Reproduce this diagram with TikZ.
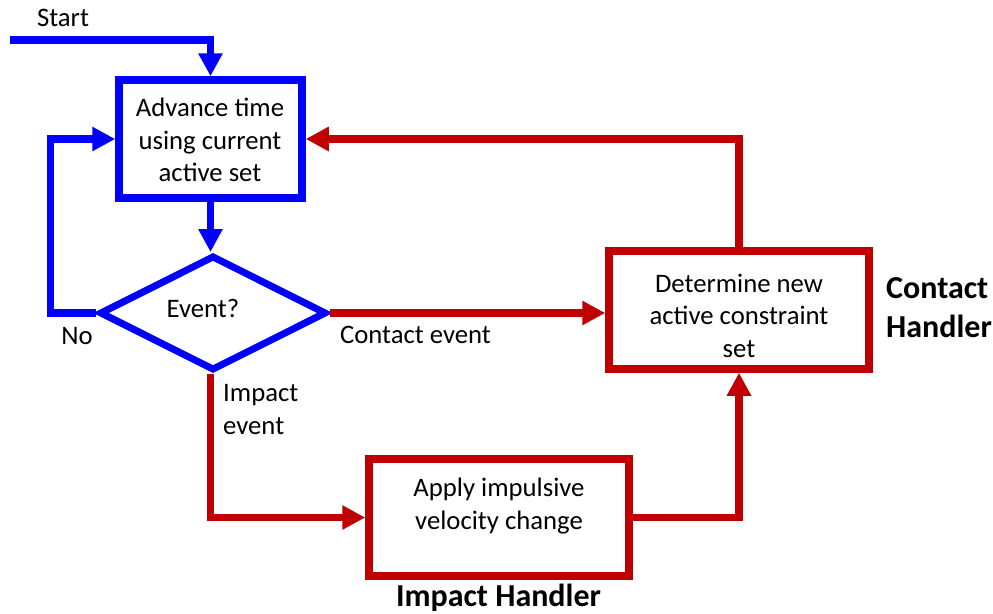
\documentclass[tikz,border=0pt]{standalone}
\usepackage{fontspec}
\setmainfont{Carlito}
\usetikzlibrary{arrows.meta,shapes.geometric}
\definecolor{fblue}{HTML}{0000FF}
\definecolor{fred}{HTML}{C00000}
\begin{document}
\begin{tikzpicture}[x=1pt,y=-1pt,
  txt/.style={font=\fontsize{26.7}{32.5}\selectfont, align=center, inner sep=0pt},
  lbl/.style={font=\fontsize{26.7}{33}\selectfont, align=left, inner sep=0pt},
  bold/.style={font=\fontsize{32}{39}\selectfont\bfseries, align=left, inner sep=0pt},
  bluebox/.style={draw=fblue, line width=7.5pt, rectangle, inner sep=0pt},
  redbox/.style={draw=fred, line width=7.5pt, rectangle, inner sep=0pt, minimum width=260pt, minimum height=118pt},
  bluedia/.style={draw=fblue, line width=7pt, diamond, inner sep=0pt, minimum width=227pt, minimum height=115pt},
  barrow/.style={draw=fblue, line width=7.5pt, -{Triangle[width=23pt,length=23pt]}},
  bline/.style={draw=fblue, line width=7.5pt},
  rarrow/.style={draw=fred, line width=7.5pt, -{Triangle[width=23pt,length=23pt]}},
  rline/.style={draw=fred, line width=7.5pt}]
\useasboundingbox (0,0) rectangle (993,613);

% nodes
\node[bluebox, minimum width=183pt, minimum height=118pt] (adv) at (210.5,139) {};
\node[txt] (advT) at (210,140) {Advance time\\using current\\active set};

\node[bluedia] (evt) at (213,313) {};
\node[txt] (evtT) at (203,308) {Event?};

\node[redbox] (det) at (739,310) {};
\node[txt] (detT) at (739,315.5) {Determine new\\active constraint\\set};

\node[redbox, minimum height=117pt] (imp) at (499,517.5) {};
\node[txt] (impT) at (499,506) {Apply impulsive\\velocity change};

% labels
\node[lbl] (startL) at (63,18) {Start};
\node[lbl] (noL) at (77,336) {No};
\node[lbl] (contactL) at (415.5,335) {Contact event};
\node[lbl, anchor=west] (impactL) at (223,410) {Impact\\event};
\node[bold, anchor=west] (contactH) at (886,308) {Contact\\Handler};
\node[bold] (impactH) at (498.5,598) {Impact Handler};

% connectors
\coordinate (start) at (10,40);
\coordinate (noX) at (50.5,0);
\draw[barrow] (start) -| (adv.north);
\draw[barrow] (adv.south) -- (adv.south |- evt.north);
\draw[barrow] (evt.west) -- (evt.west -| noX) |- (adv.west);
\draw[rarrow] (evt.east) -- (evt.east -| det.west);
\draw[rarrow] (det.north) |- (adv.east);
\draw[rarrow] (evt.south -| adv.south) |- (imp.west);
\draw[rarrow] (imp.east) -| (det.south);
\end{tikzpicture}
\end{document}
